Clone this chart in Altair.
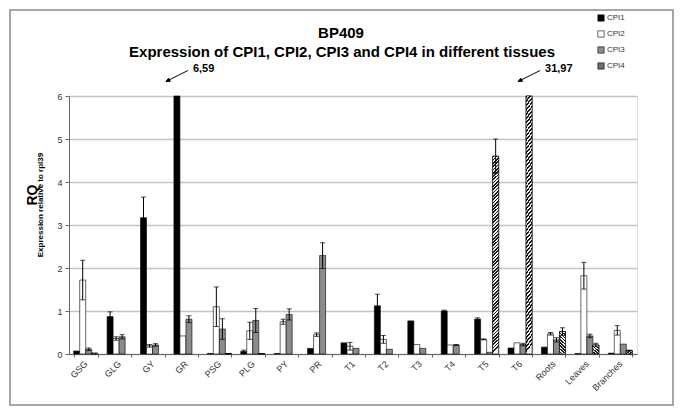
import altair as alt
import pandas as pd

tissues = ["GSG", "GLG", "GY", "GR", "PSG", "PLG", "PY", "PR", "T1", "T2",
           "T3", "T4", "T5", "T6", "Roots", "Leaves", "Branches"]
series = ["CPI1", "CPI2", "CPI3", "CPI4"]

cpi1 = [0.07, 0.87, 3.17, 6.59, 0.01, 0.06, 0.01, 0.13, 0.26, 1.12, 0.77, 1.00, 0.81, 0.14, 0.16, 0.01, 0.02]
cpi2 = [1.72, 0.36, 0.19, 0.42, 1.10, 0.54, 0.75, 0.45, 0.18, 0.34, 0.22, 0.21, 0.34, 0.26, 0.47, 1.82, 0.55]
cpi3 = [0.11, 0.40, 0.21, 0.81, 0.58, 0.78, 0.92, 2.29, 0.13, 0.11, 0.13, 0.21, 0.04, 0.22, 0.33, 0.42, 0.23]
cpi4 = [0.02, 0.0, 0.0, 0.0, 0.01, 0.01, 0.0, 0.0, 0.0, 0.0, 0.0, 0.0, 4.60, 31.97, 0.52, 0.21, 0.08]

err1 = [0, 0.11, 0.48, 0, 0, 0.03, 0, 0, 0, 0.27, 0, 0.02, 0.03, 0, 0, 0, 0]
err2 = [0.46, 0.04, 0.03, 0, 0.46, 0.20, 0.06, 0.04, 0.09, 0.09, 0, 0, 0.01, 0, 0.03, 0.31, 0.11]
err3 = [0.03, 0.05, 0.03, 0.08, 0.24, 0.28, 0.13, 0.30, 0, 0, 0, 0.01, 0, 0.03, 0.05, 0.04, 0]
err4 = [0, 0, 0, 0, 0, 0, 0, 0, 0, 0, 0, 0, 0.40, 0, 0.09, 0.04, 0.01]

ann_tissue = ["GR", "T6"]
ann_series = ["CPI1", "CPI4"]
ann_label = ["6,59", "31,97"]

title_lines = ["BP409", "Expression of CPI1, CPI2, CPI3 and CPI4 in different tissues"]
y_title = "RQ"
y_subtitle = "Expression relative to rpl39"

colors = ["#000000", "#ffffff", "#8c8c8c", "#6e6e6e"]
FONT = "Liberation Sans"
YMAX = 6

rows = []
for s, vals, errs in zip(series, [cpi1, cpi2, cpi3, cpi4], [err1, err2, err3, err4]):
    for t, v, e in zip(tissues, vals, errs):
        rows.append({"tissue": t, "series": s, "value": v, "err": e,
                     "lo": max(v - e, 0), "hi": v + e})
df = pd.DataFrame(rows)
bars_df = df[df["value"] > 0]
err_df = df[df["err"] > 0]
ann_df = pd.DataFrame({"tissue": ann_tissue, "series": ann_series,
                       "label": ann_label, "ypos": [YMAX] * len(ann_label)})

xenc = alt.X("tissue:N", sort=tissues,
             scale=alt.Scale(domain=tissues, paddingInner=0.28, paddingOuter=0.14),
             axis=alt.Axis(title=None, labelAngle=-45, labelAlign="right", labelBaseline="middle",
                           labelFontSize=9, labelColor="#333333", labelFont=FONT, labelPadding=5,
                           tickBand="extent", tickSize=3, tickColor="#666666",
                           domainColor="#666666", grid=False))
xoff = alt.XOffset("series:N", sort=series,
                   scale=alt.Scale(domain=series, paddingInner=0, paddingOuter=0))
yscale = alt.Scale(domain=[0, YMAX], clamp=True, nice=False)


def yenc(field):
    return alt.Y(field, scale=yscale, title=None)


bars = alt.Chart(bars_df).mark_bar(stroke="black", strokeWidth=0.6).encode(
    x=xenc, xOffset=xoff, y=yenc("value:Q"),
    color=alt.Color("series:N", sort=series,
                    scale=alt.Scale(domain=series, range=colors),
                    legend=alt.Legend(title=None, orient="none", legendX=528, legendY=-82,
                                      symbolType="square", symbolSize=40,
                                      symbolStrokeColor="black", symbolStrokeWidth=0.6,
                                      labelFontSize=8, labelFont=FONT, labelColor="#333333",
                                      rowPadding=6, labelOffset=2)),
)

# diagonal hatch approximation: many thin slanted stripes along the bar
N_STRIPES = 60
stops = []
for i in range(N_STRIPES):
    a, b, c = i / N_STRIPES, (i + 0.5) / N_STRIPES, (i + 1) / N_STRIPES
    stops += [alt.GradientStop(color="#1a1a1a", offset=a), alt.GradientStop(color="#1a1a1a", offset=b),
              alt.GradientStop(color="#f0f0f0", offset=b), alt.GradientStop(color="#f0f0f0", offset=c)]
hatch_fill = alt.LinearGradient(gradient="linear", x1=0, y1=0, x2=0.03, y2=1, stops=stops)

hatch = alt.Chart(bars_df[bars_df["series"] == "CPI4"]).mark_bar(
    fill=hatch_fill, stroke="black", strokeWidth=0.6).encode(
    x=xenc, xOffset=xoff, y=yenc("value:Q"))

rules = alt.Chart(err_df).mark_rule(color="black", strokeWidth=1).encode(
    x=xenc, xOffset=xoff, y=yenc("lo:Q"), y2="hi:Q")
cap_hi = alt.Chart(err_df).mark_tick(color="black", thickness=1, size=5, orient="horizontal").encode(
    x=xenc, xOffset=xoff, y=yenc("hi:Q"))
cap_lo = alt.Chart(err_df).mark_tick(color="black", thickness=1, size=5, orient="horizontal").encode(
    x=xenc, xOffset=xoff, y=yenc("lo:Q"))

arrow_path = "M1,-0.5L-0.72,0.36M-1,0.5L-0.6,0.48L-0.76,0.2Z"
arrows = alt.Chart(ann_df).mark_point(shape=arrow_path, size=484, fill="black", stroke="black",
                                      strokeWidth=1, opacity=1, xOffset=4, yOffset=-20).encode(
    x=xenc, xOffset=xoff, y=yenc("ypos:Q"))
ann_text = alt.Chart(ann_df).mark_text(align="left", baseline="middle", dx=16, dy=-27,
                                       fontSize=11, fontWeight="bold", font=FONT, color="black").encode(
    x=xenc, xOffset=xoff, y=yenc("ypos:Q"), text="label:N")

title_df = pd.DataFrame({"t": title_lines, "row": [0, 1]})
title1 = alt.Chart(title_df[title_df["row"] == 0]).mark_text(
    fontSize=15, fontWeight="bold", font=FONT, color="black", align="center", baseline="middle").encode(
    x=alt.value(272), y=alt.value(-63), text="t:N")
title2 = alt.Chart(title_df[title_df["row"] == 1]).mark_text(
    fontSize=15, fontWeight="bold", font=FONT, color="black", align="center", baseline="middle").encode(
    x=alt.value(273), y=alt.value(-44), text="t:N")

rq = alt.Chart(pd.DataFrame({"t": [y_title]})).mark_text(
    angle=270, fontSize=14, fontWeight="bold", font=FONT,
    color="black", baseline="middle", align="center").encode(
    x=alt.value(-36), y=alt.value(99), text="t:N")
ysub = alt.Chart(pd.DataFrame({"t": [y_subtitle]})).mark_text(
    angle=270, fontSize=8, fontWeight="bold", font=FONT,
    color="#000000", baseline="middle", align="center").encode(
    x=alt.value(-28), y=alt.value(109), text="t:N")

frame = alt.Chart(pd.DataFrame({"a": [0]})).mark_rect(
    fillOpacity=0, stroke="#8a8a8a", strokeWidth=1.5).encode(
    x=alt.value(-59), x2=alt.value(604), y=alt.value(-86), y2=alt.value(309))

chart = alt.layer(frame, bars, hatch, rules, cap_hi, cap_lo, arrows, ann_text,
                  title1, title2, rq, ysub).properties(
    width=568, height=258,
    padding={"left": 61, "top": 88, "right": 40, "bottom": 52},
    autosize=alt.AutoSizeParams(type="none"),
).configure_view(stroke="#888888", strokeWidth=1).configure(background="white").configure_axisY(
    values=[0, 1, 2, 3, 4, 5, 6], labelFontSize=9, labelColor="#333333", labelFont=FONT,
    tickSize=4, tickColor="#666666", domainColor="#666666", gridColor="#c4c4c4", gridWidth=1.5,
    labelPadding=3)

chart.save("out.html", embed_options={"renderer": "svg", "actions": False})
